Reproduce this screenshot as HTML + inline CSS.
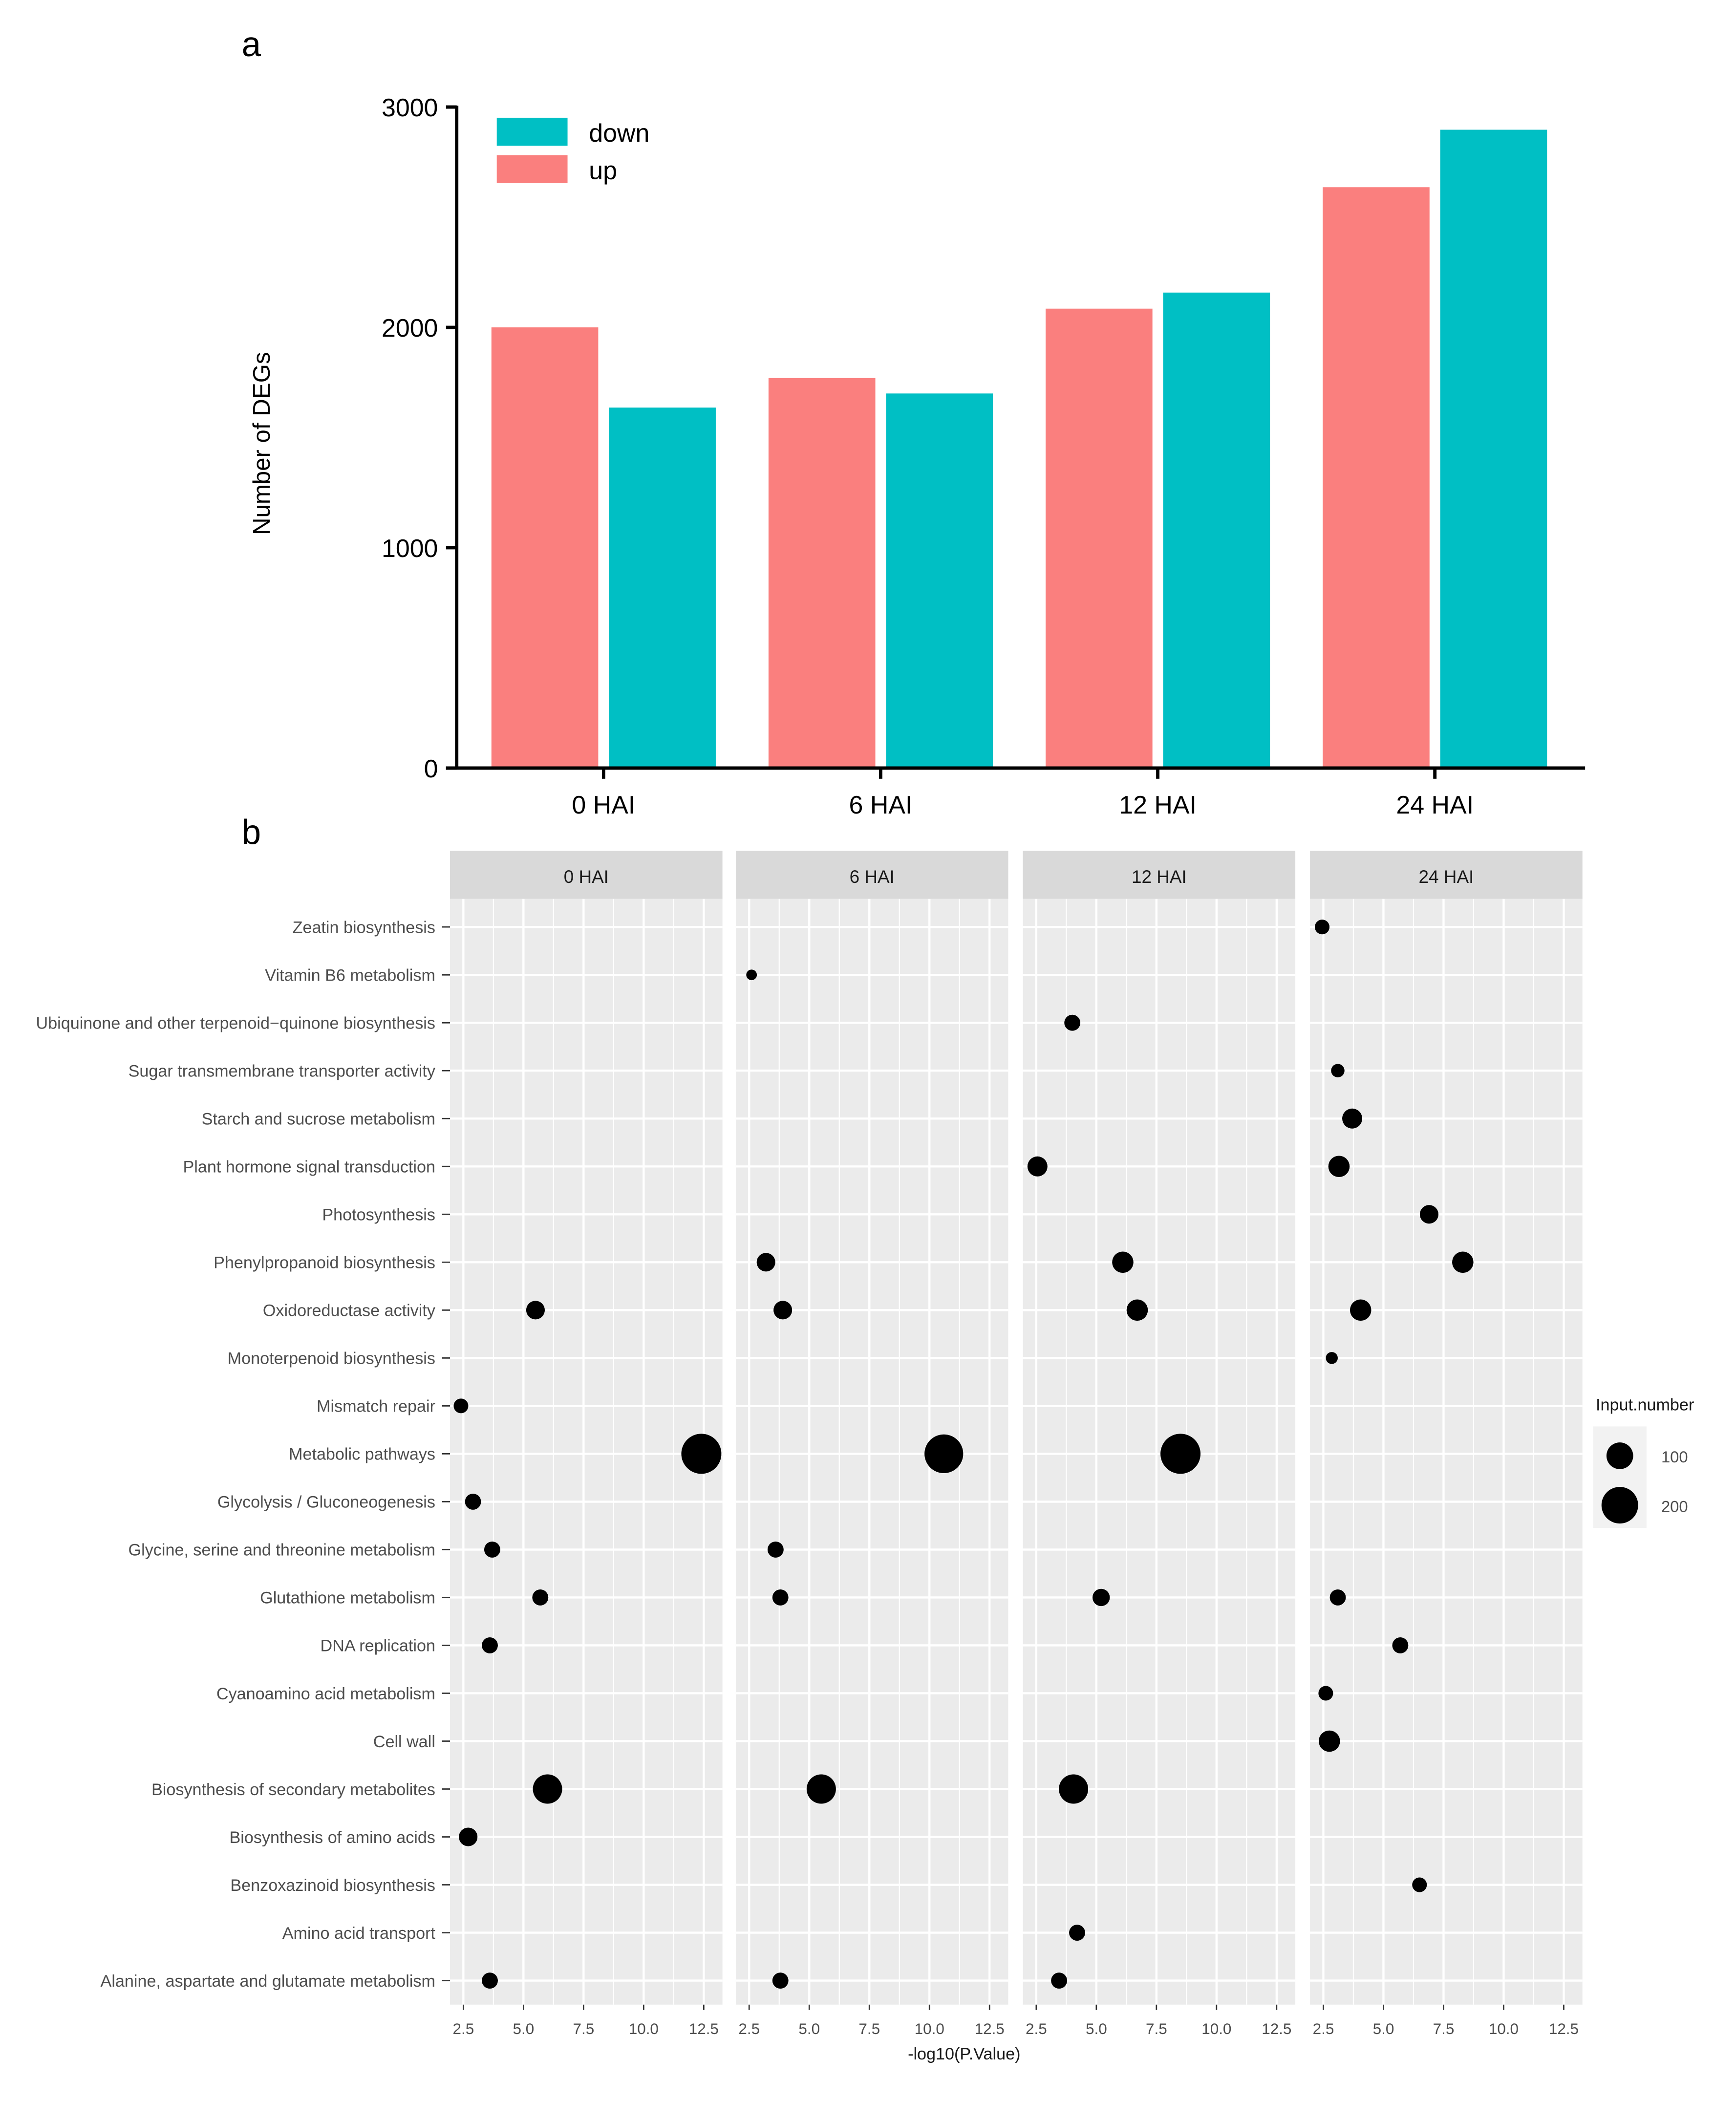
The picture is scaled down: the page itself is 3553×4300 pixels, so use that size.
<!DOCTYPE html>
<html><head><meta charset="utf-8"><style>
html,body{margin:0;padding:0;background:#fff}
svg{display:block;font-family:"Liberation Sans",Arial,sans-serif}
</style></head><body>
<svg id="fig" width="3553" height="4300" viewBox="0 0 1300 1573" xmlns="http://www.w3.org/2000/svg">
<rect width="1300" height="1573" fill="#fff"/>
<g id="pa"></g>
<g id="pb"></g>
</svg>
<script>
// ---- Panel a data ----
const barCats = ["0 HAI","6 HAI","12 HAI","24 HAI"];
const upVals = [2000, 1770, 2085, 2636];
const downVals = [1636, 1700, 2158, 2897];
const yTicks = [0, 1000, 2000, 3000];

// ---- Panel b data ----
const pathways = ["Zeatin biosynthesis","Vitamin B6 metabolism","Ubiquinone and other terpenoid\u2212quinone biosynthesis","Sugar transmembrane transporter activity","Starch and sucrose metabolism","Plant hormone signal transduction","Photosynthesis","Phenylpropanoid biosynthesis","Oxidoreductase activity","Monoterpenoid biosynthesis","Mismatch repair","Metabolic pathways","Glycolysis / Gluconeogenesis","Glycine, serine and threonine metabolism","Glutathione metabolism","DNA replication","Cyanoamino acid metabolism","Cell wall","Biosynthesis of secondary metabolites","Biosynthesis of amino acids","Benzoxazinoid biosynthesis","Amino acid transport","Alanine, aspartate and glutamate metabolism"];
const facets = ["0 HAI","6 HAI","12 HAI","24 HAI"];
const xTickVals = [2.5,5.0,7.5,10.0,12.5];
const dotFacet = [0,0,0,0,0,0,0,0,0,0, 1,1,1,1,1,1,1,1, 2,2,2,2,2,2,2,2,2, 3,3,3,3,3,3,3,3,3,3,3,3,3];
const dotPath  = [8,10,11,12,13,14,15,18,19,22, 1,7,8,11,13,14,18,22, 2,5,7,8,11,14,18,21,22, 0,3,4,5,6,7,8,9,14,15,16,17,20];
const dotP     = [5.5,2.4,12.4,2.9,3.7,5.7,3.6,6.0,2.7,3.6, 2.6,3.2,3.9,10.6,3.6,3.8,5.5,3.8, 4.0,2.55,6.1,6.7,8.5,5.2,4.05,4.2,3.45, 2.45,3.1,3.7,3.15,6.9,8.3,4.05,2.85,3.1,5.7,2.6,2.75,6.5];
const dotN     = [44,25,242,31,31,31,31,123,44,31, 11,44,44,225,31,31,123,31, 31,52,60,60,242,37,123,31,31, 25,20,52,60,44,60,60,15,31,31,25,60,25];
const legendVals = [100, 200];

const NS="http://www.w3.org/2000/svg";
function mk(parent, tag, attrs, text){const e=document.createElementNS(NS,tag);for(const k in attrs)e.setAttribute(k,attrs[k]);if(text!==undefined)e.textContent=text;parent.appendChild(e);return e;}

// ===== Panel a =====
const pa=document.getElementById('pa');
const yA=v=>575-v*0.165;
const groupC=i=>452+i*207.5;
let t=mk(pa,'text',{x:181,y:42,'font-size':26,fill:'#000'},'a');


barCats.forEach((c,i)=>{
  let r=mk(pa,'rect',{x:groupC(i)-84,y:yA(upVals[i]),width:80,height:575-yA(upVals[i]),fill:'#FA7F7E'});
  
  
  r=mk(pa,'rect',{x:groupC(i)+4,y:yA(downVals[i]),width:80,height:575-yA(downVals[i]),fill:'#00BFC4'});
  
  
  mk(pa,'line',{x1:groupC(i),x2:groupC(i),y1:575,y2:583,stroke:'#000','stroke-width':2.5});
  let l=mk(pa,'text',{x:groupC(i),y:609,'font-size':19,'text-anchor':'middle',fill:'#000'},c);
  
  
});
mk(pa,'line',{x1:342,x2:342,y1:79,y2:576,stroke:'#000','stroke-width':2.5});
mk(pa,'line',{x1:334,x2:1187,y1:575,y2:575,stroke:'#000','stroke-width':2.5});
yTicks.forEach(v=>{
  mk(pa,'line',{x1:334,x2:342,y1:yA(v),y2:yA(v),stroke:'#000','stroke-width':2.5});
  let l=mk(pa,'text',{x:328,y:yA(v)+7,'font-size':19,'text-anchor':'end',fill:'#000'},String(v));
  
  
});
t=mk(pa,'text',{x:0,y:0,'font-size':18,'text-anchor':'middle',transform:'translate(202,332) rotate(-90)',fill:'#000'},'Number of DEGs');


let lg=mk(pa,'rect',{x:372,y:88,width:53,height:21,fill:'#00BFC4'});


lg=mk(pa,'text',{x:441,y:106,'font-size':19},'down');


lg=mk(pa,'rect',{x:372,y:116,width:53,height:21,fill:'#FA7F7E'});


lg=mk(pa,'text',{x:441,y:134,'font-size':19},'up');



// ===== Panel b =====
const pb=document.getElementById('pb');
t=mk(pb,'text',{x:181,y:632,'font-size':26,fill:'#000'},'b');


const panelL=[337,551,766,981], panelW=204;
const pTop=673, pBot=1501;
const yB=i=>694+i*(1483-694)/22;
const xB=(f,v)=>panelL[f]+10+(v-2.5)*18;
const rOf=n=>1+0.9*Math.sqrt(n);
facets.forEach((f,fi)=>{
  const L=panelL[fi];
  let s=mk(pb,'rect',{x:L,y:637,width:panelW,height:36,fill:'#D9D9D9'});
  
  
  let st=mk(pb,'text',{x:L+panelW/2,y:661,'font-size':13.5,'text-anchor':'middle',fill:'#1a1a1a'},f);
  
  
  let bg=mk(pb,'rect',{x:L,y:pTop,width:panelW,height:pBot-pTop,fill:'#EBEBEB'});
  
  
  for(let v=1.25;v<=13.2;v+=1.25){
    const x=xB(fi,v); if(x<L||x>L+panelW)continue;
    const major=Math.abs((v/2.5)-Math.round(v/2.5))<1e-6;
    mk(pb,'line',{x1:x,x2:x,y1:pTop,y2:pBot,stroke:'#fff','stroke-width':major?1.6:0.8});
  }
  pathways.forEach((p,pi)=>mk(pb,'line',{x1:L,x2:L+panelW,y1:yB(pi),y2:yB(pi),stroke:'#fff','stroke-width':1.6}));
  xTickVals.forEach(v=>{
    const x=xB(fi,v);
    mk(pb,'line',{x1:x,x2:x,y1:pBot,y2:pBot+4,stroke:'#333','stroke-width':1});
    let tl=mk(pb,'text',{x:x,y:pBot+22,'font-size':11.5,'text-anchor':'middle',fill:'#4d4d4d'},v.toFixed(1));
    
    
  });
});
pathways.forEach((p,pi)=>{
  mk(pb,'line',{x1:331,x2:337,y1:yB(pi),y2:yB(pi),stroke:'#333','stroke-width':1});
  let l=mk(pb,'text',{x:326,y:yB(pi)+4.5,'font-size':12.5,'text-anchor':'end',fill:'#4d4d4d'},p);
  
  
});
dotP.forEach((v,i)=>{
  let c=mk(pb,'circle',{cx:xB(dotFacet[i],v),cy:yB(dotPath[i]),r:rOf(dotN[i]),fill:'#000'});
  
  
});
t=mk(pb,'text',{x:722,y:1542,'font-size':12.5,'text-anchor':'middle',fill:'#1a1a1a'},'-log10(P.Value)');


t=mk(pb,'text',{x:1195,y:1056,'font-size':12.5,fill:'#1a1a1a'},'Input.number');


let lb=mk(pb,'rect',{x:1193,y:1068,width:40,height:76,fill:'#F2F2F2'});


legendVals.forEach((v,i)=>{
  const cy=1090+i*37;
  let c=mk(pb,'circle',{cx:1213,cy:cy,r:rOf(v),fill:'#000'});
  
  
  let l=mk(pb,'text',{x:1244,y:cy+5,'font-size':12,fill:'#4d4d4d'},String(v));
  
  
});
</script>
</body></html>
